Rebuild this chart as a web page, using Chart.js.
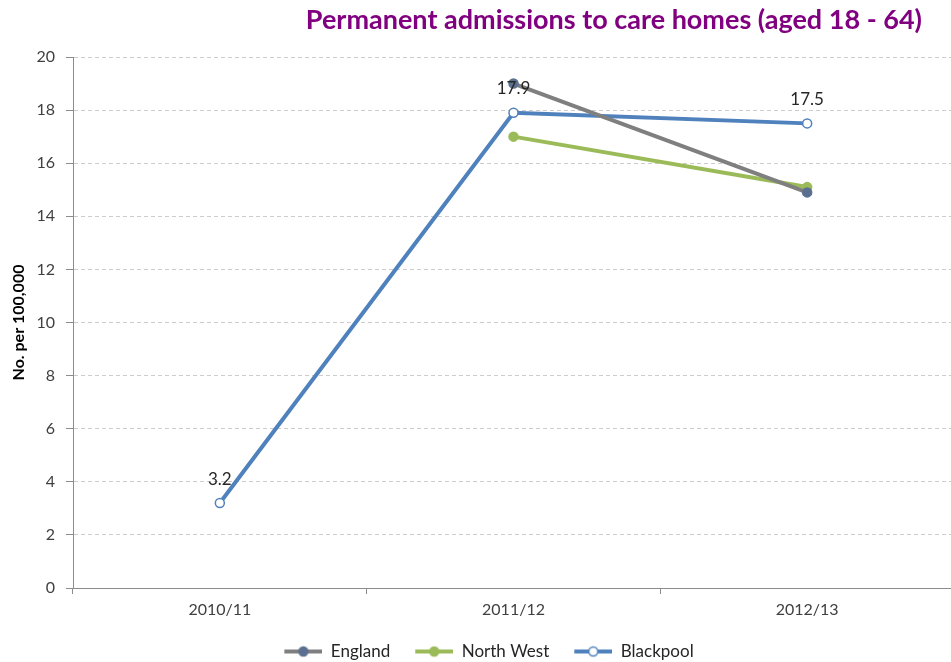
<!DOCTYPE html>
<html>
<head>
<meta charset="utf-8">
<script src="https://cdn.jsdelivr.net/npm/chart.js@4.4.1/dist/chart.umd.min.js"></script>
<style>
  html, body { margin: 0; padding: 0; background: #fff; overflow: hidden; }
  #wrap { width: 960px; height: 670px; }
</style>
</head>
<body>
<div id="wrap"><canvas id="chart"></canvas></div>
<script>
// dados do gráfico
const categories = ['2010/11', '2011/12', '2012/13'];
const england = [null, 19.0, 14.9];
const northWest = [null, 17.0, 15.1];
const blackpool = [3.2, 17.9, 17.5];
const yMin = 0, yMax = 20, yStep = 2;

const titleText = 'Permanent admissions to care homes (aged 18 - 64)';
const FONT = 'Lato, "Open Sans", sans-serif';

// ícone da legenda: linha + marcador
function legendIcon(lineColor, fill, stroke) {
    const c = document.createElement('canvas');
    c.width = 60; c.height = 14;
    const g = c.getContext('2d');
    g.strokeStyle = lineColor;
    g.lineWidth = 4;
    g.beginPath();
    g.moveTo(22, 7); g.lineTo(60, 7);
    g.stroke();
    g.beginPath();
    g.arc(41, 7, 4.5, 0, Math.PI * 2);
    g.fillStyle = fill;
    g.fill();
    g.lineWidth = 1.5;
    g.strokeStyle = stroke;
    g.stroke();
    return c;
}

const icons = [
    legendIcon('#7f7f7f', '#5b7090', '#5b7090'),
    legendIcon('#9bbb59', '#9bbb59', '#9bbb59'),
    legendIcon('#4f81bd', '#ffffff', '#4f81bd')
];

// título e rótulos de dados
const extrasPlugin = {
    id: 'extras',
    afterDraw(chart) {
        const ctx = chart.ctx;
        ctx.save();
        ctx.font = 'bold 27px ' + FONT;
        ctx.fillStyle = '#800080';
        ctx.textAlign = 'right';
        ctx.textBaseline = 'middle';
        ctx.fillText(titleText, 922, 20);

        const meta = chart.getDatasetMeta(2);
        ctx.font = '17px ' + FONT;
        ctx.fillStyle = '#262626';
        ctx.textAlign = 'center';
        meta.data.forEach((pt, i) => {
            if (blackpool[i] == null) return;
            ctx.fillText(blackpool[i].toFixed(1), pt.x, pt.y - 24);
        });
        ctx.restore();
    }
};

new Chart(document.getElementById('chart'), {
    type: 'line',
    data: {
        labels: categories,
        datasets: [
            {
                label: 'England',
                data: england,
                borderColor: '#7f7f7f',
                backgroundColor: '#5b7090',
                pointBorderColor: '#5b7090',
                borderWidth: 4,
                pointRadius: 4.5,
                pointBorderWidth: 1.5
            },
            {
                label: 'North West',
                data: northWest,
                borderColor: '#9bbb59',
                backgroundColor: '#9bbb59',
                borderWidth: 4,
                pointRadius: 4.5,
                pointBorderWidth: 1.5
            },
            {
                label: 'Blackpool',
                data: blackpool,
                borderColor: '#4f81bd',
                backgroundColor: '#ffffff',
                pointBorderColor: '#4f81bd',
                borderWidth: 4,
                pointRadius: 4.5,
                pointBorderWidth: 1.5
            }
        ]
    },
    options: {
        responsive: true,
        maintainAspectRatio: false,
        animation: false,
        layout: { padding: { top: 57, left: 0, right: 4, bottom: 0 } },
        plugins: {
            title: { display: false },
            tooltip: { enabled: false },
            legend: {
                position: 'bottom',
                labels: {
                    usePointStyle: true,
                    pointStyleWidth: 60,
                    padding: 3,
                    color: '#262626',
                    font: { family: FONT, size: 17 },
                    generateLabels(chart) {
                        return chart.data.datasets.map((ds, i) => ({
                            text: ds.label,
                            pointStyle: icons[i],
                            fillStyle: 'transparent',
                            strokeStyle: 'transparent',
                            lineWidth: 0,
                            fontColor: '#262626',
                            datasetIndex: i,
                            hidden: false
                        }));
                    }
                }
            }
        },
        scales: {
            x: {
                offset: true,
                grid: {
                    offset: true,
                    drawOnChartArea: false,
                    tickLength: 6,
                    tickColor: '#8c8c8c'
                },
                border: { color: '#8c8c8c', width: 1 },
                ticks: {
                    color: '#404040',
                    padding: 6,
                    maxRotation: 0,
                    font: { family: FONT, size: 16 }
                },
                afterFit(scale) { scale.height = 52; }
            },
            y: {
                min: yMin,
                max: yMax,
                ticks: {
                    stepSize: yStep,
                    color: '#404040',
                    padding: 11,
                    font: { family: FONT, size: 16 }
                },
                grid: {
                    color: '#cccccc',
                    tickLength: 7,
                    tickColor: '#8c8c8c',
                    tickBorderDash: []
                },
                border: { color: '#8c8c8c', width: 1, dash: [4, 3] },
                title: {
                    display: true,
                    text: 'No. per 100,000',
                    color: '#000',
                    padding: { top: 9, bottom: 0 },
                    font: { family: FONT, size: 16, weight: 'bold' }
                },
                afterFit(scale) { scale.width = 73; }
            }
        }
    },
    plugins: [extrasPlugin]
});
</script>
</body>
</html>
